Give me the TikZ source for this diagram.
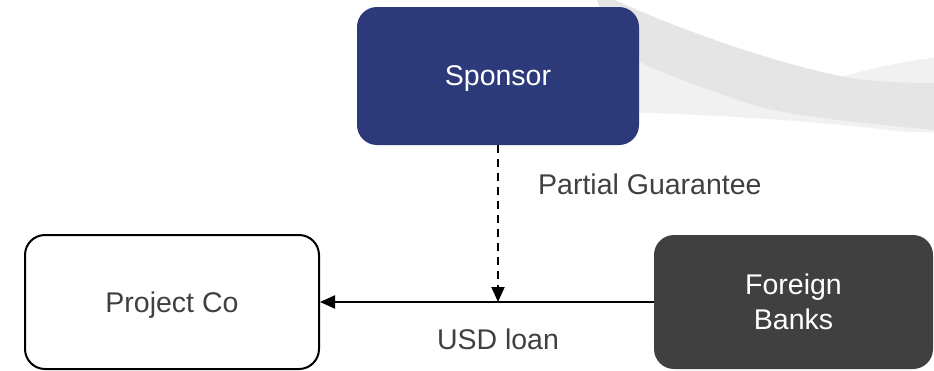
\documentclass[tikz,border=0pt]{standalone}
\usepackage{fontspec}
\setmainfont{Liberation Sans}
\usetikzlibrary{arrows.meta}

\definecolor{sponsorblue}{HTML}{2C3A7A}
\definecolor{bankgray}{HTML}{404040}
\definecolor{labelgray}{HTML}{404040}
\definecolor{swooshdark}{HTML}{E5E5E5}
\definecolor{swooshlight}{HTML}{F1F1F1}

\begin{document}
\begin{tikzpicture}[x=1pt,y=-1pt,
  font=\fontsize{28.5}{35}\selectfont,
  party/.style={rounded corners=20pt, inner sep=0pt, align=center, text depth=0pt},
  flow/.style={line width=2pt, -{Triangle[length=15pt,width=13pt]}},
  guarantee/.style={flow, dash pattern=on 8pt off 6pt},
  caption/.style={text=labelgray, inner sep=0pt}
]
  % canvas
  \useasboundingbox (0,0) rectangle (934,370);
  \clip (0,0) rectangle (934,370);

  % background swoosh, top right
  \fill[swooshlight] (620,0) -- (620,112)
    .. controls (720,115) and (820,121) .. (905,132)
    -- (934,132) -- (934,58)
    .. controls (895,62) and (862,71) .. (830,80)
    -- (700,60) -- (620,30) -- cycle;
  \fill[swooshdark] (615,0)
    .. controls (680,30) and (780,65) .. (850,78)
    .. controls (885,83) and (915,83) .. (934,83)
    -- (934,130)
    .. controls (850,122) and (790,115) .. (760,107)
    .. controls (720,95) and (660,72) .. (640,62)
    .. controls (620,50) and (605,25) .. (597,0) -- cycle;

  % parties
  \node[party, fill=sponsorblue, text=white,
        minimum width=282pt, minimum height=138pt] (sponsor) at (498,76) {Sponsor};
  \node[party, draw=black, line width=2pt, text=labelgray,
        minimum width=294pt, minimum height=134pt] (proj) at (172,302) {Project Co};
  \node[party, fill=bankgray, text=white,
        minimum width=279pt, minimum height=134pt] (banks) at (793.5,302) {Foreign\\Banks};

  % loan and guarantee
  \coordinate (join) at (sponsor.south |- banks.west);
  \draw[flow] (banks.west) -- (proj.east);
  \draw[guarantee] (sponsor.south) -- (join);

  % labels
  \node[caption, anchor=west] (guarlabel) at (538,184) {Partial Guarantee};
  \node[caption] (loanlabel) at (498,339) {USD loan};
\end{tikzpicture}
\end{document}
